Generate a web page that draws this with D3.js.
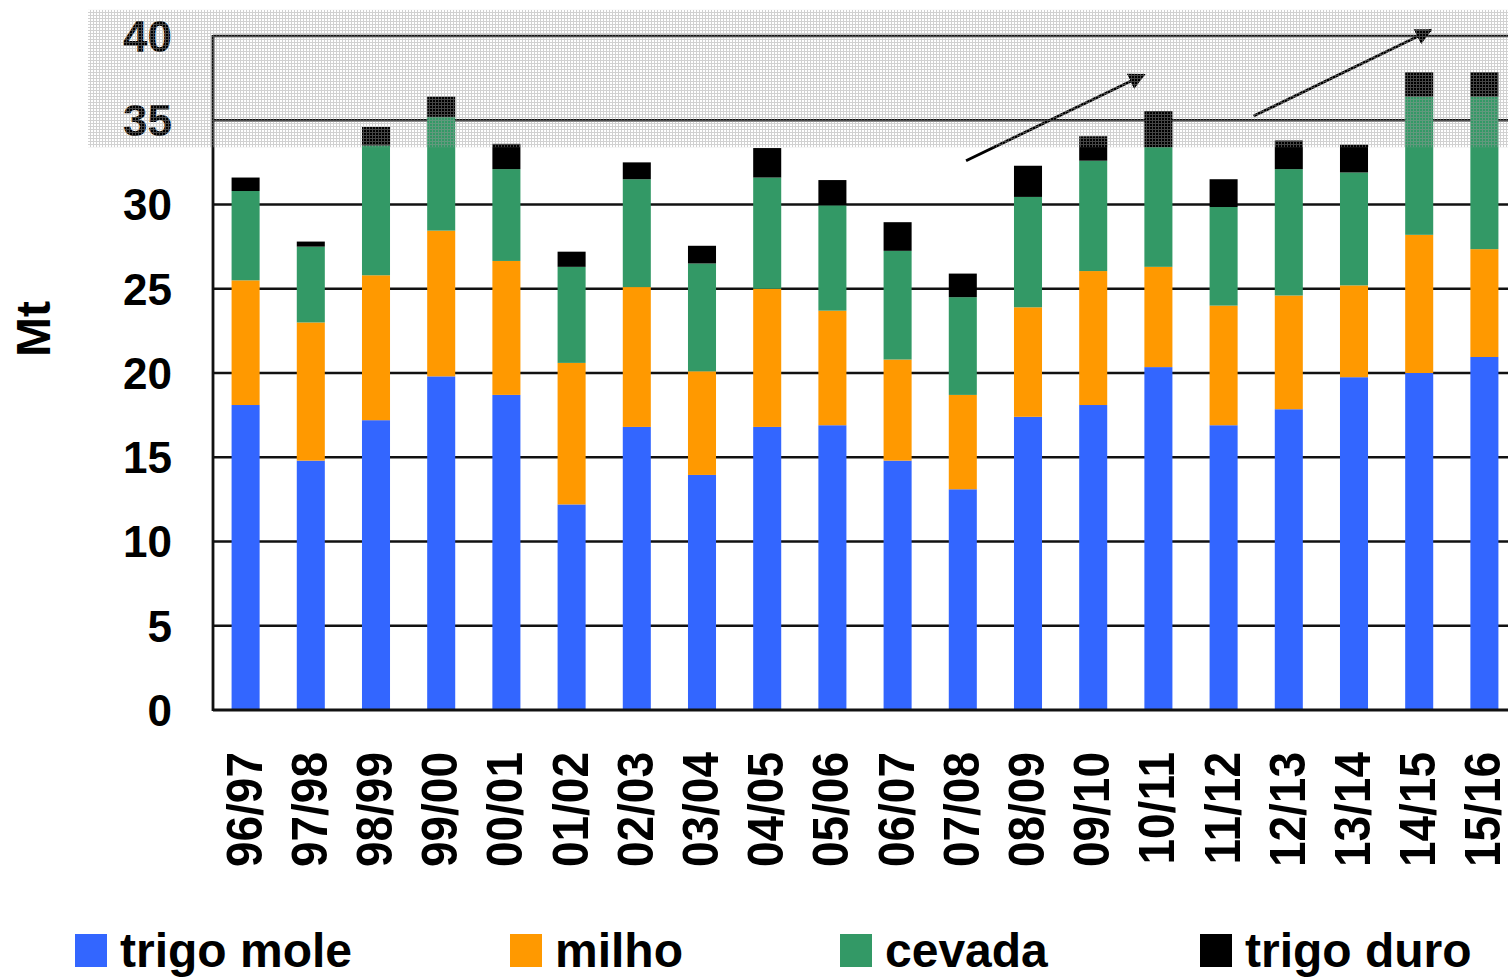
<!DOCTYPE html>
<html><head><meta charset="utf-8">
<script src="https://cdn.jsdelivr.net/npm/d3@7"></script>
<style>html,body{margin:0;padding:0;background:#fff;overflow:hidden}</style>
</head><body>
<svg id="chart" width="1508" height="977"></svg>
<script>
const categories = ["96/97","97/98","98/99","99/00","00/01","01/02","02/03","03/04","04/05","05/06","06/07","07/08","08/09","09/10","10/11","11/12","12/13","13/14","14/15","15/16"];
const trigoMole = [18.1,14.8,17.2,19.8,18.7,12.2,16.8,13.95,16.8,16.9,14.8,13.1,17.4,18.1,20.35,16.9,17.85,19.75,20.0,20.95];
const milho     = [7.4,8.2,8.6,8.65,7.95,8.4,8.3,6.15,8.2,6.8,6.0,5.6,6.5,7.95,5.95,7.1,6.75,5.45,8.2,6.4];
const cevada    = [5.3,4.5,7.7,6.75,5.45,5.7,6.4,6.4,6.6,6.25,6.45,5.8,6.55,6.55,7.1,5.85,7.5,6.7,8.2,9.05];
const trigoDuro = [0.8,0.3,1.1,1.2,1.5,0.9,1.0,1.05,1.75,1.5,1.7,1.4,1.85,1.45,2.15,1.65,1.7,1.65,1.45,1.45];
const seriesNames = ["trigo mole","milho","cevada","trigo duro"];
const seriesColors = ["#3366FF","#FF9900","#339966","#000000"];
const yTicks = [0,5,10,15,20,25,30,35,40];
// arrows: [start category index (fractional), start value, end index, end value]
const arrows = [[11.05,32.6,13.78,37.7],[15.46,35.25,18.18,40.35]];
const highlightBand = [33.4, 41.55];

const svg = d3.select("#chart");
const left = 213, step = 65.2;
const x = d3.scaleBand().domain(categories).range([left, left + step*categories.length]).paddingInner(0.57).paddingOuter(0.285);
const y = d3.scaleLinear().domain([0,40]).range([710,36]);
const xi = i => left + step*(i+0.5);

const defs = svg.append("defs");
const pat = defs.append("pattern").attr("id","mesh").attr("patternUnits","userSpaceOnUse").attr("width",3).attr("height",3);
pat.append("rect").attr("width",3).attr("height",1).attr("fill","#9a9a9a").attr("fill-opacity",0.45);
pat.append("rect").attr("y",1).attr("width",1).attr("height",2).attr("fill","#9a9a9a").attr("fill-opacity",0.45);
defs.append("marker").attr("id","ah").attr("viewBox","0 0 10 10").attr("refX",9).attr("refY",5)
  .attr("markerWidth",6).attr("markerHeight",7.5).attr("markerUnits","strokeWidth").attr("orient","auto")
  .append("path").attr("d","M0,0 L10,5 L0,10 Z").attr("fill","#000");

// gridlines
svg.append("g").selectAll("line").data(yTicks.filter(d=>d>0)).join("line")
  .attr("x1",left).attr("x2",1508).attr("y1",d=>y(d)).attr("y2",d=>y(d))
  .attr("stroke","#111").attr("stroke-width",2.6);

// stacked bars
const rows = categories.map((c,i)=>({cat:c, "trigo mole":trigoMole[i], "milho":milho[i], "cevada":cevada[i], "trigo duro":trigoDuro[i]}));
const stack = d3.stack().keys(seriesNames)(rows);
svg.append("g").selectAll("g").data(stack).join("g").attr("fill",(d,i)=>seriesColors[i])
  .selectAll("rect").data(d=>d).join("rect")
  .attr("x",d=>x(d.data.cat)).attr("width",x.bandwidth())
  .attr("y",d=>y(d[1])).attr("height",d=>y(d[0])-y(d[1]));

// axes lines
svg.append("line").attr("x1",left).attr("x2",left).attr("y1",y(40)-1).attr("y2",y(0)+1).attr("stroke","#111").attr("stroke-width",2.8);
svg.append("line").attr("x1",left).attr("x2",1508).attr("y1",y(0)).attr("y2",y(0)).attr("stroke","#111").attr("stroke-width",2.8);

// y tick labels
svg.append("g").selectAll("text").data(yTicks).join("text")
  .attr("x",172).attr("y",d=>y(d)).attr("dy","0.36em").attr("text-anchor","end")
  .attr("font-family","Liberation Sans, Arial, sans-serif").attr("font-weight","bold").attr("font-size",44).attr("fill","#000")
  .text(d=>d);

// x labels
svg.append("g").selectAll("text").data(categories).join("text")
  .attr("transform",d=>`translate(${x(d)+x.bandwidth()/2+16},752) rotate(-90) scale(1,1.1)`)
  .attr("text-anchor","end")
  .attr("font-family","Liberation Sans, Arial, sans-serif").attr("font-weight","bold").attr("font-size",46).attr("fill","#000")
  .text(d=>d);

// y title
svg.append("text").attr("transform","translate(50,329) rotate(-90)").attr("text-anchor","middle")
  .attr("font-family","Liberation Sans, Arial, sans-serif").attr("font-weight","bold").attr("font-size",48).text("Mt");

// arrows
svg.append("g").selectAll("line").data(arrows).join("line")
  .attr("x1",d=>xi(d[0])).attr("y1",d=>y(d[1])).attr("x2",d=>xi(d[2])).attr("y2",d=>y(d[3]))
  .attr("stroke","#000").attr("stroke-width",2.8).attr("marker-end","url(#ah)");

// highlight band overlay
svg.append("rect").attr("x",88).attr("width",1508-88).attr("y",y(highlightBand[1])).attr("height",y(highlightBand[0])-y(highlightBand[1]))
  .attr("fill","url(#mesh)");

// legend
const legX = [75,510,840,1200];
const lg = svg.append("g").selectAll("g").data(seriesNames).join("g").attr("transform",(d,i)=>`translate(${legX[i]},934)`);
lg.append("rect").attr("width",32).attr("height",33).attr("fill",(d,i)=>seriesColors[i]);
lg.append("text").attr("x",45).attr("y",33).attr("font-family","Liberation Sans, Arial, sans-serif").attr("font-weight","bold").attr("font-size",48).text(d=>d);
</script>
</body></html>
